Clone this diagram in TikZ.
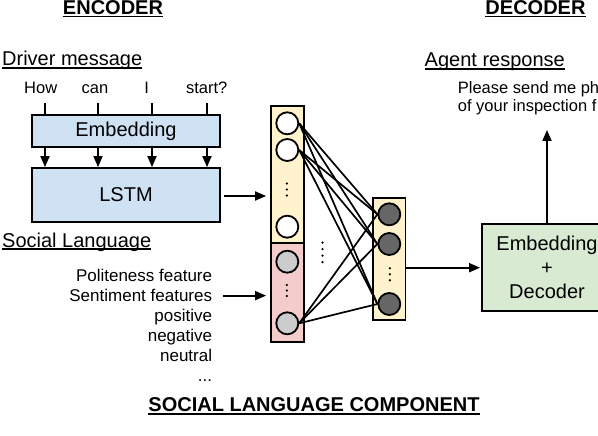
\documentclass[tikz,border=0pt]{standalone}
\usepackage{fontspec}
\setmainfont{Liberation Sans}
\usetikzlibrary{arrows.meta}
\definecolor{boxblue}{HTML}{CFE2F3}
\definecolor{boxyellow}{HTML}{FFF2CC}
\definecolor{boxpink}{HTML}{F4CCCC}
\definecolor{boxgreen}{HTML}{D9EAD3}
\definecolor{circlight}{HTML}{CCCCCC}
\definecolor{circdark}{HTML}{666666}
\tikzset{
  big/.style={font=\fontsize{20}{24}\selectfont, inner sep=0pt},
  bigbold/.style={font=\fontsize{20}{24}\selectfont\bfseries, inner sep=0pt},
  small/.style={font=\fontsize{16.5}{19}\selectfont, inner sep=0pt},
  feat/.style={font=\fontsize{17}{20}\selectfont, inner sep=0pt, anchor=base east},
  ul/.style={line width=1.5pt},
  blk/.style={draw, line width=1.8pt, inner sep=0pt, font=\fontsize{20}{24}\selectfont},
  col/.style={draw, line width=1.8pt, inner sep=0pt, minimum width=33pt},
  neuron/.style={circle, draw, line width=1.8pt, minimum size=22pt, inner sep=0pt},
  conn/.style={line width=1.7pt},
  arr/.style={line width=1.8pt, -{Triangle[length=11pt,width=9pt]}},
  dotm/.style={fill=black, circle, inner sep=0pt, minimum size=2.5pt}
}
\begin{document}
\begin{tikzpicture}[x=1pt,y=-1pt]
\useasboundingbox (0,0) rectangle (598,436);

% titles
\node[bigbold, anchor=base] (enc) at (113,14.5) {ENCODER};
\draw[ul] ([yshift=-2.2pt]enc.base west) -- ([yshift=-2.2pt]enc.base east);
\node[bigbold, anchor=base] (dec) at (535.5,14.5) {DECODER};
\draw[ul] ([yshift=-2.2pt]dec.base west) -- ([yshift=-2.2pt]dec.base east);
\node[bigbold, anchor=base] (slc) at (314,411.7) {SOCIAL LANGUAGE COMPONENT};
\draw[ul] ([yshift=-2.2pt]slc.base west) -- ([yshift=-2.2pt]slc.base east);

% section labels
\node[big, anchor=base west] (drv) at (2,66) {Driver message};
\draw[ul] ([yshift=-2.2pt]drv.base west) -- ([yshift=-2.2pt]drv.base east);
\node[big, anchor=base west] (agt) at (424.5,67) {Agent response};
\draw[ul] ([yshift=-2.2pt]agt.base west) -- ([yshift=-2.2pt]agt.base east);
\node[big, anchor=base west] (soc) at (2,247) {Social Language};
\draw[ul] ([yshift=-2.2pt]soc.base west) -- ([yshift=-2.2pt]soc.base east);

% words
\node[small, anchor=base] (wa) at (40.7,93.3) {How};
\node[small, anchor=base] (wb) at (95,93.3) {can};
\node[small, anchor=base] (wc) at (146.7,93.3) {I};
\node[small, anchor=base] (wd) at (206.7,93.3) {start?};

% encoder boxes
\node[blk, fill=boxblue, minimum width=188pt, minimum height=32pt] (emb) at (126,131) {Embedding};
\node[blk, fill=boxblue, minimum width=188pt, minimum height=54pt] (lstm) at (126,195) {LSTM};

\foreach \x [count=\i] in {45,98,152,207}{
  \coordinate (t\i) at (\x,103);
  \draw[line width=1.8pt] (t\i) -- (t\i |- emb.north);
  \draw[arr] (t\i |- emb.south) -- (t\i |- lstm.north);
}

% social features
\node[feat] (f1) at (212.3,281.7) {Politeness feature};
\node[feat] (f2) at (212.3,301.7) {Sentiment features};
\node[feat] (f3) at (212.3,321.7) {positive};
\node[feat] (f4) at (212.3,341.7) {negative};
\node[feat] (f5) at (212.3,361.7) {neutral};
\node[feat] (f6) at (212.3,381.7) {...};

% columns
\node[col, fill=boxyellow, minimum height=137pt] (colA) at (287.5,174.5) {};
\node[col, fill=boxpink, minimum height=99pt] (colB) at (287.5,292.5) {};
\node[col, fill=boxyellow, minimum width=32.5pt, minimum height=122pt] (colC) at (389.3,259) {};

% arrows into column
\draw[arr, shorten <=3pt, shorten >=4pt] (lstm.east |- 0,196) -- (colA.west |- 0,196);
\draw[arr, shorten <=11pt, shorten >=4pt] (f2.east) -- (f2.east -| colB.west);

% neurons
\node[neuron, fill=white] (n1) at (287.3,123.3) {};
\node[neuron, fill=white] (n2) at (287.3,150) {};
\node[neuron, fill=white] (n3) at (287.3,226.7) {};
\node[neuron, fill=circlight] (g1) at (287.3,261.7) {};
\node[neuron, fill=circlight] (g2) at (287.3,323.3) {};
\node[neuron, fill=circdark] (d1) at (389.3,214.3) {};
\node[neuron, fill=circdark] (d2) at (389.3,244) {};
\node[neuron, fill=circdark] (d3) at (389.3,304) {};

% dots
\foreach \y [count=\i] in {183.5,189.5,195.5}{\node[dotm] (pa\i) at (286.8,\y) {};}
\foreach \y [count=\i] in {285,290.5,296}{\node[dotm] (pb\i) at (286.8,\y) {};}
\foreach \y [count=\i] in {268.3,274.3,280.3}{\node[dotm] (pc\i) at (389.8,\y) {};}
\foreach \y [count=\i] in {242.7,249.2,255.7,262.2}{\node[dotm] (pm\i) at (322.5,\y) {};}

% connections
\foreach \s in {n1,n2,g2}{
  \foreach \t in {d1,d2,d3}{
    \draw[conn] (\s.east) -- (\t.west);
  }
}

% decoder
\node[blk, fill=boxgreen, minimum width=130pt, minimum height=87pt, align=center] (decb) at (547,267.7) {Embedding\\+\\Decoder};
\draw[arr, shorten >=1pt] (colC.east |- decb.west) -- (decb.west);
\coordinate (resp) at (547,130);
\draw[arr] (decb.north) -- (resp);

\node[small, anchor=base west] (r1) at (457.7,93.3) {Please send me ph};
\node[small, anchor=base west] (r2) at (457.7,111.7) {of your inspection f};
\end{tikzpicture}
\end{document}
